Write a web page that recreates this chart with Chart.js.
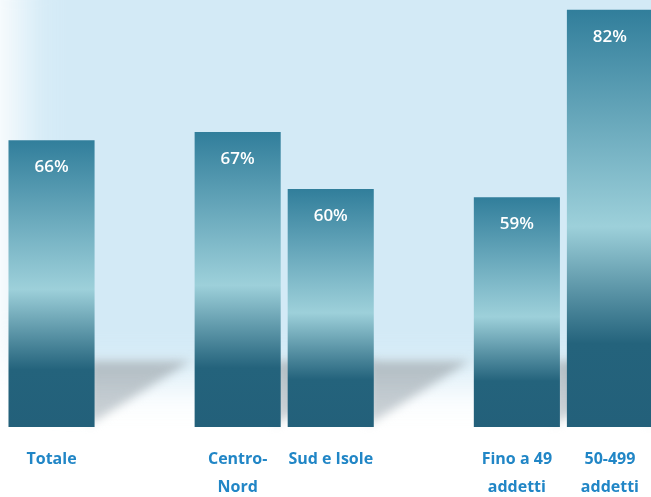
<!DOCTYPE html>
<html>
<head>
<meta charset="utf-8">
<script src="https://cdn.jsdelivr.net/npm/chart.js@4/dist/chart.umd.min.js"></script>
<style>
  html, body { margin: 0; padding: 0; overflow: hidden; background: #ffffff; }
  #wrap { width: 657px; height: 519px; }
</style>
</head>
<body>
<div id="wrap"><canvas id="chart"></canvas></div>
<script>
// Dati: le colonne vuote fanno da spazio tra i gruppi
const categories = [['Totale'], [''], ['Centro-', 'Nord'], ['Sud e Isole'], [''], ['Fino a 49', 'addetti'], ['50-499', 'addetti']];
const values = [66, null, 67, 60, null, 59, 82];

// Gradiente per ogni barra, dall'alto alla base
function barGradient(context) {
  const chart = context.chart;
  const area = chart.chartArea;
  const v = context.raw;
  if (!area || v == null) return '#2f7d99';
  const top = chart.scales.y.getPixelForValue(v);
  const bottom = area.bottom;
  const g = chart.ctx.createLinearGradient(0, top, 0, bottom);
  g.addColorStop(0, '#317e9b');
  g.addColorStop(0.52, '#9dd0da');
  g.addColorStop(0.8, '#24637c');
  g.addColorStop(1, '#23607a');
  return g;
}

// Sfondo azzurro sfumato e ombre dietro le barre
const sfondo = {
  id: 'sfondo',
  beforeDraw(chart) {
    const ctx = chart.ctx;
    ctx.save();
    ctx.fillStyle = '#ffffff';
    ctx.fillRect(0, 0, chart.width, chart.height);
    ctx.filter = 'blur(22px)';
    ctx.fillStyle = '#d3eaf6';
    ctx.beginPath();
    ctx.roundRect(18, -60, 720, 440, 40);
    ctx.fill();
    ctx.filter = 'none';
    ctx.restore();
  },
  beforeDatasetsDraw(chart) {
    const ctx = chart.ctx;
    const xs = chart.scales.x;
    const base = chart.chartArea.bottom;
    const half = xs.width / categories.length * 0.925 / 2;
    ctx.save();
    ctx.filter = 'blur(5px)';
    values.forEach((v, i) => {
      if (v == null) return;
      const right = xs.getPixelForValue(i) + half;
      const g = ctx.createLinearGradient(right, base - 66, right, base);
      g.addColorStop(0, 'rgba(170,180,186,0.85)');
      g.addColorStop(1, 'rgba(185,194,200,0.7)');
      ctx.fillStyle = g;
      ctx.beginPath();
      ctx.moveTo(right - 6, base - 66);
      ctx.lineTo(right + 96, base - 66);
      ctx.lineTo(right - 6, base - 2);
      ctx.closePath();
      ctx.fill();
    });
    ctx.restore();
  }
};

// Etichette dei valori dentro le barre
const etichette = {
  id: 'etichette',
  afterDatasetsDraw(chart) {
    const ctx = chart.ctx;
    const meta = chart.getDatasetMeta(0);
    ctx.save();
    ctx.fillStyle = '#ffffff';
    ctx.font = '600 17px "Open Sans"';
    ctx.textAlign = 'center';
    ctx.textBaseline = 'middle';
    meta.data.forEach((bar, i) => {
      if (values[i] == null) return;
      ctx.fillText(values[i] + '%', bar.x, bar.y + 27);
    });
    ctx.restore();
  }
};

const ctx = document.getElementById('chart').getContext('2d');
const chart = new Chart(ctx, {
  type: 'bar',
  data: {
    labels: categories,
    datasets: [{
      data: values,
      backgroundColor: barGradient,
      borderWidth: 0,
      categoryPercentage: 1,
      barPercentage: 0.925
    }]
  },
  options: {
    responsive: true,
    maintainAspectRatio: false,
    animation: false,
    layout: { padding: { left: 5, right: 0, top: 0, bottom: 0 } },
    plugins: {
      legend: { display: false },
      tooltip: { enabled: false }
    },
    scales: {
      x: {
        grid: { display: false, drawTicks: false },
        border: { display: false },
        ticks: {
          color: '#2186c6',
          font: { family: '"Open Sans"', size: 16, weight: 'bold', lineHeight: 1.75 },
          padding: 18,
          maxRotation: 0,
          autoSkip: false
        }
      },
      y: {
        display: false,
        min: 30.8,
        max: 83.2
      }
    }
  },
  plugins: [sfondo, etichette]
});
</script>
</body>
</html>
